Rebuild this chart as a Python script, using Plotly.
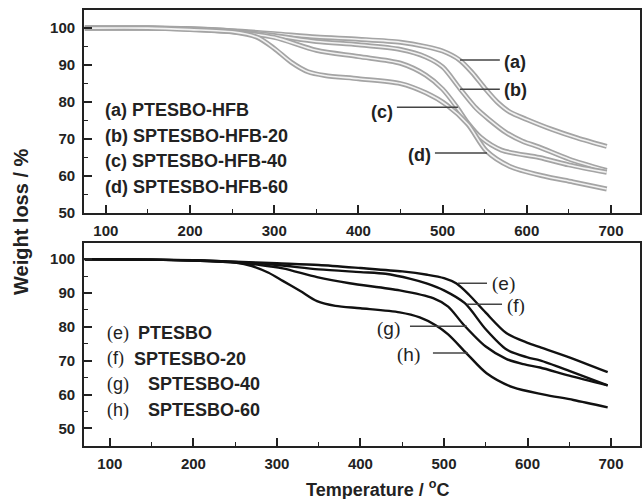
import plotly.graph_objects as go

# ---------------- data ----------------
# Top panel: fluorinated samples
T_a = [75, 150, 200, 250, 300, 350, 400, 450, 480, 500, 520, 535, 550, 565, 580, 600, 630, 660, 695]
W_a = [100, 100, 99.8, 99.3, 98.5, 97.6, 97.0, 96.2, 95.0, 93.8, 91.4, 88.0, 83.8, 80.0, 77.3, 75.3, 72.6, 70.3, 68.0]
T_b = [75, 150, 200, 250, 300, 350, 400, 450, 480, 500, 520, 540, 555, 575, 595, 615, 650, 695]
W_b = [100, 100, 99.8, 99.2, 98.0, 96.4, 95.5, 94.2, 92.2, 89.5, 83.8, 78.3, 75.3, 71.8, 69.4, 67.8, 64.6, 61.5]
T_c = [75, 150, 200, 250, 300, 350, 400, 450, 480, 500, 517, 530, 545, 570, 615, 650, 695]
W_c = [100, 100, 99.7, 99.0, 97.5, 94.0, 92.3, 90.5, 87.3, 83.5, 78.6, 74.3, 70.5, 67.0, 65.0, 63.0, 61.0]
T_d = [75, 150, 200, 250, 280, 300, 320, 340, 360, 400, 450, 480, 505, 530, 552, 580, 620, 655, 695]
W_d = [100, 100, 99.6, 99.0, 97.5, 94.5, 90.8, 88.2, 87.2, 86.3, 85.0, 82.5, 79.2, 74.0, 66.8, 62.6, 60.0, 58.4, 56.5]

# Bottom panel: non-fluorinated samples
T_e = [70, 150, 200, 250, 300, 350, 400, 450, 480, 500, 515, 530, 550, 575, 600, 615, 650, 696]
W_e = [100, 99.9, 99.7, 99.3, 98.8, 98.3, 97.4, 96.4, 95.4, 94.4, 92.8, 89.5, 84.2, 78.1, 75.3, 74.0, 71.0, 66.6]
T_f = [70, 150, 200, 250, 300, 350, 400, 430, 460, 480, 500, 525, 550, 575, 600, 615, 650, 696]
W_f = [100, 99.9, 99.7, 99.2, 98.3, 97.0, 96.2, 95.7, 94.2, 92.8, 90.8, 87.0, 79.3, 73.3, 71.0, 70.1, 67.0, 62.7]
T_g = [70, 150, 200, 250, 280, 307, 348, 387, 447, 487, 505, 523, 550, 575, 595, 615, 650, 696]
W_g = [100, 99.9, 99.6, 99.0, 98.3, 97.3, 94.7, 92.9, 90.8, 88.5, 86.0, 80.8, 74.2, 70.5, 69.0, 68.0, 65.6, 62.7]
T_h = [70, 150, 200, 250, 270, 290, 307, 328, 348, 370, 400, 447, 471, 490, 505, 527, 551, 583, 620, 655, 696]
W_h = [100, 99.9, 99.6, 99.0, 98.0, 96.0, 93.6, 90.6, 87.6, 86.2, 85.5, 84.3, 82.8, 80.5, 77.8, 72.2, 66.3, 62.1, 60.0, 58.4, 56.2]

legend_top = ["(a) PTESBO-HFB", "(b) SPTESBO-HFB-20", "(c) SPTESBO-HFB-40", "(d) SPTESBO-HFB-60"]
legend_bot_tag = ["e", "f", "g", "h"]
legend_bot_name = ["PTESBO", "SPTESBO-20", "SPTESBO-40", "SPTESBO-60"]
x_ticks = [100, 200, 300, 400, 500, 600, 700]
y_ticks = [50, 60, 70, 80, 90, 100]

# ---------------- figure ----------------
W, H = 643, 499
FONT = "Liberation Sans, Arial, sans-serif"
SERIF = "Liberation Serif, Times New Roman, serif"

fig = go.Figure()

top_series = [(T_a, W_a), (T_b, W_b), (T_c, W_c), (T_d, W_d)]
for T, Wt in top_series:
    fig.add_trace(go.Scatter(x=T, y=Wt, mode="lines", xaxis="x", yaxis="y",
                             line=dict(color="#a4a4a4", width=5, shape="spline", smoothing=0.8),
                             showlegend=False, hoverinfo="skip"))
    fig.add_trace(go.Scatter(x=T, y=Wt, mode="lines", xaxis="x", yaxis="y",
                             line=dict(color="#f2f2f2", width=1.6, shape="spline", smoothing=0.8),
                             showlegend=False, hoverinfo="skip"))

bot_series = [(T_e, W_e), (T_f, W_f), (T_g, W_g), (T_h, W_h)]
for T, Wt in bot_series:
    fig.add_trace(go.Scatter(x=T, y=Wt, mode="lines", xaxis="x2", yaxis="y2",
                             line=dict(color="#111111", width=2.4, shape="spline", smoothing=0.8),
                             showlegend=False, hoverinfo="skip"))

def px(x):
    return x / W

def py(y):
    return 1 - y / H

axis_common = dict(
    showline=True, linecolor="#222", linewidth=1.8, mirror=True,
    ticks="inside", ticklen=8, tickwidth=1.6, tickcolor="#222",
    showgrid=False, zeroline=False, automargin=False,
    tickfont=dict(family=FONT, size=15, color="#222", weight="bold"),
)

xdom = [px(84), px(640)]
fig.update_layout(
    width=W, height=H,
    margin=dict(l=0, r=0, t=0, b=0, autoexpand=False),
    paper_bgcolor="white", plot_bgcolor="white",
    showlegend=False,
    xaxis=dict(domain=xdom, anchor="y", range=[74, 734.5], tickmode="array", tickvals=x_ticks,
               ticklabelstandoff=3,
               minor=dict(ticks="inside", ticklen=4, tickwidth=1.4, tickcolor="#222", dtick=50, tick0=50),
               **axis_common),
    yaxis=dict(domain=[py(213), py(10)], anchor="x", range=[50, 104.9], tickmode="array", tickvals=y_ticks,
               ticklabelstandoff=4,
               minor=dict(ticks="inside", ticklen=4, tickwidth=1.4, tickcolor="#222", dtick=5, tick0=0),
               **axis_common),
    xaxis2=dict(domain=xdom, anchor="y2", range=[69, 734.7], tickmode="array", tickvals=x_ticks,
                ticklabelstandoff=3,
                minor=dict(ticks="inside", ticklen=4, tickwidth=1.4, tickcolor="#222", dtick=50, tick0=50),
                **axis_common),
    yaxis2=dict(domain=[py(446), py(243)], anchor="x2", range=[44.8, 104.8], tickmode="array", tickvals=y_ticks,
                ticklabelstandoff=4,
                minor=dict(ticks="inside", ticklen=4, tickwidth=1.4, tickcolor="#222", dtick=5, tick0=0),
                **axis_common),
)

ann = []
# axis titles
ann.append(dict(text="Weight loss / %", x=px(21), y=py(222), xref="paper", yref="paper",
                textangle=-90, showarrow=False, xanchor="center", yanchor="middle",
                font=dict(family=FONT, size=20, color="#222", weight="bold")))
ann.append(dict(text="Temperature / <sup>o</sup>C", x=px(377), y=py(488), xref="paper", yref="paper",
                showarrow=False, xanchor="center", yanchor="middle",
                font=dict(family=FONT, size=18, color="#222", weight="bold")))

# top legend block
for i, txt in enumerate(legend_top):
    ann.append(dict(text=txt, x=px(103), y=py(110 + i * 25.5), xref="paper", yref="paper",
                    showarrow=False, xanchor="left", yanchor="middle",
                    font=dict(family=FONT, size=18, color="#222", weight="bold")))

# bottom legend block
bot_name_x = [136, 132, 146, 146]
for i, (tag, name) in enumerate(zip(legend_bot_tag, legend_bot_name)):
    ann.append(dict(text=f"<span style='font-family:{SERIF}'>(</span>{tag}<span style='font-family:{SERIF}'>)</span>",
                    x=px(105), y=py(333 + i * 25.7), xref="paper", yref="paper",
                    showarrow=False, xanchor="left", yanchor="middle",
                    font=dict(family=FONT, size=18, color="#222")))
    ann.append(dict(text=name, x=px(bot_name_x[i]), y=py(333 + i * 25.7), xref="paper", yref="paper",
                    showarrow=False, xanchor="left", yanchor="middle",
                    font=dict(family=FONT, size=18, color="#222", weight="bold")))

# curve labels with leader lines (data coordinates)
top_labels = [  # text, line x0, x1, y_line, text x, text y, anchor
    ("(a)", 520.6, 568.0, 91.35, 570.5, 90.8, "left"),
    ("(b)", 520.6, 568.0, 83.5, 570.5, 83.2, "left"),
    ("(c)", 445.7, 518.2, 78.6, 443.0, 77.2, "right"),
    ("(d)", 490.9, 552.7, 66.2, 488.5, 65.8, "right"),
]
shapes = []
for txt, x0, x1, yl, tx, ty, anc in top_labels:
    shapes.append(dict(type="line", xref="x", yref="y", x0=x0, x1=x1, y0=yl, y1=yl,
                       line=dict(color="#444", width=1.5)))
    ann.append(dict(text=txt, x=tx, y=ty, xref="x", yref="y", showarrow=False,
                    xanchor=anc, yanchor="middle",
                    font=dict(family=FONT, size=18, color="#222", weight="bold")))

bot_labels = [
    ("e", 516.8, 551.5, 92.9, 555.0, 92.6, "left"),
    ("f", 527.5, 569.5, 86.7, 573.0, 86.2, "left"),
    ("g", 459.3, 527.5, 80.2, 450.0, 79.4, "right"),
    ("h", 486.8, 528.7, 72.3, 474.0, 71.7, "right"),
]
for tag, x0, x1, yl, tx, ty, anc in bot_labels:
    shapes.append(dict(type="line", xref="x2", yref="y2", x0=x0, x1=x1, y0=yl, y1=yl,
                       line=dict(color="#444", width=1.5)))
    ann.append(dict(text=f"<span style='font-family:{SERIF}'>(</span>{tag}<span style='font-family:{SERIF}'>)</span>",
                    x=tx, y=ty, xref="x2", yref="y2", showarrow=False,
                    xanchor=anc, yanchor="middle",
                    font=dict(family=FONT, size=19, color="#222")))

fig.update_layout(annotations=ann, shapes=shapes)
fig.write_html("out.html", config={"displayModeBar": False},
               post_script="document.body.style.margin='0';document.body.style.overflow='hidden';")
